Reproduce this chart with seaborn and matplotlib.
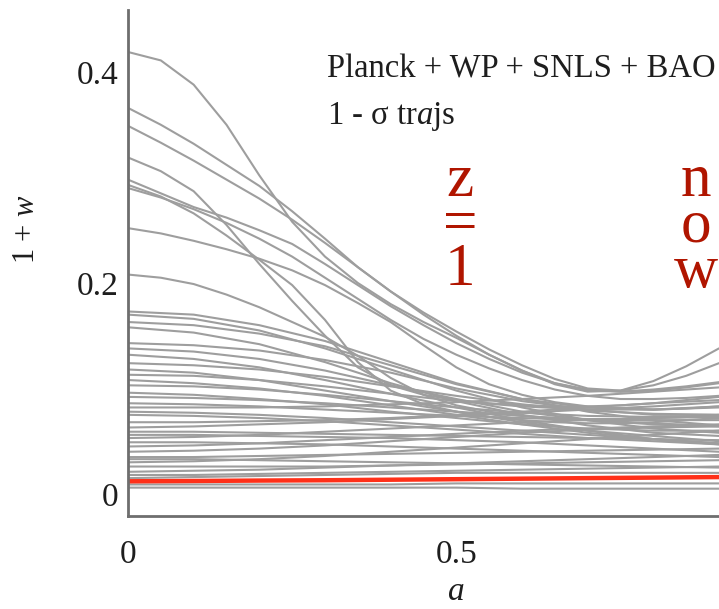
import numpy as np
import pandas as pd
import matplotlib
matplotlib.use("Agg")
import matplotlib.pyplot as plt
import seaborn as sns

# scale factor grids
a_fine = [0.0, 0.05, 0.1, 0.15, 0.2, 0.25, 0.3, 0.35, 0.4, 0.45,
          0.5, 0.55, 0.6, 0.65, 0.7, 0.75, 0.8, 0.85, 0.9]
a_grid = [0.0, 0.1, 0.2, 0.3, 0.4, 0.5, 0.6, 0.7, 0.8, 0.9]

# 1-sigma trajectories of 1+w
# steep upper trajectories, on the fine grid
traj_upper = [
    [0.419, 0.411, 0.388, 0.350, 0.302, 0.258, 0.225, 0.200, 0.180, 0.163, 0.148, 0.132, 0.117, 0.104, 0.097, 0.098, 0.107, 0.121, 0.138],
    [0.366, 0.350, 0.332, 0.312, 0.292, 0.268, 0.242, 0.215, 0.192, 0.172, 0.154, 0.137, 0.122, 0.109, 0.100, 0.098, 0.103, 0.112, 0.124],
    [0.349, 0.333, 0.316, 0.298, 0.280, 0.260, 0.238, 0.215, 0.192, 0.170, 0.150, 0.132, 0.117, 0.105, 0.098, 0.097, 0.099, 0.102, 0.106],
    [0.319, 0.306, 0.287, 0.255, 0.218, 0.183, 0.150, 0.120, 0.103, 0.094, 0.089, 0.086, 0.084, 0.083, 0.083, 0.084, 0.086, 0.089, 0.092],
    [0.298, 0.285, 0.272, 0.262, 0.250, 0.237, 0.218, 0.198, 0.178, 0.160, 0.143, 0.128, 0.115, 0.105, 0.099, 0.097, 0.098, 0.101, 0.105],
    [0.293, 0.282, 0.266, 0.245, 0.222, 0.198, 0.165, 0.125, 0.098, 0.085, 0.078, 0.073, 0.070, 0.068, 0.067, 0.067, 0.068, 0.070, 0.072],
    [0.290, 0.281, 0.270, 0.257, 0.242, 0.225, 0.205, 0.185, 0.165, 0.147, 0.132, 0.119, 0.108, 0.099, 0.093, 0.090, 0.090, 0.091, 0.093],
    [0.252, 0.247, 0.240, 0.232, 0.223, 0.212, 0.198, 0.181, 0.163, 0.141, 0.120, 0.104, 0.094, 0.087, 0.083, 0.081, 0.080, 0.081, 0.083],
    [0.208, 0.205, 0.199, 0.189, 0.177, 0.163, 0.149, 0.131, 0.110, 0.094, 0.084, 0.078, 0.074, 0.072, 0.071, 0.071, 0.072, 0.073, 0.075],
]
# gentler trajectories, on the coarse grid
traj_middle = [
    [0.173, 0.170, 0.160, 0.145, 0.125, 0.105, 0.090, 0.078, 0.070, 0.065],
    [0.170, 0.166, 0.155, 0.138, 0.118, 0.098, 0.082, 0.070, 0.062, 0.058],
    [0.163, 0.160, 0.152, 0.140, 0.122, 0.104, 0.090, 0.082, 0.080, 0.082],
    [0.158, 0.153, 0.142, 0.125, 0.105, 0.088, 0.075, 0.065, 0.058, 0.055],
    [0.143, 0.141, 0.136, 0.127, 0.115, 0.100, 0.088, 0.080, 0.075, 0.075],
    [0.138, 0.135, 0.128, 0.117, 0.103, 0.090, 0.078, 0.070, 0.066, 0.065],
    [0.132, 0.128, 0.120, 0.108, 0.095, 0.082, 0.070, 0.060, 0.052, 0.047],
    [0.124, 0.122, 0.118, 0.111, 0.102, 0.093, 0.085, 0.079, 0.076, 0.075],
    [0.118, 0.115, 0.108, 0.098, 0.088, 0.078, 0.068, 0.060, 0.055, 0.050],
    [0.113, 0.112, 0.108, 0.102, 0.095, 0.088, 0.083, 0.080, 0.080, 0.083],
    [0.108, 0.105, 0.100, 0.093, 0.084, 0.075, 0.066, 0.058, 0.052, 0.048],
    [0.103, 0.102, 0.099, 0.094, 0.088, 0.082, 0.077, 0.074, 0.073, 0.074],
    [0.096, 0.094, 0.090, 0.085, 0.078, 0.072, 0.066, 0.062, 0.060, 0.060],
]
traj_lower = [
    [0.092, 0.091, 0.089, 0.086, 0.082, 0.078, 0.074, 0.070, 0.067, 0.064],
    [0.086, 0.085, 0.083, 0.080, 0.077, 0.074, 0.072, 0.070, 0.070, 0.070],
    [0.082, 0.082, 0.082, 0.083, 0.085, 0.087, 0.090, 0.093, 0.097, 0.101],
    [0.078, 0.077, 0.075, 0.072, 0.068, 0.064, 0.060, 0.056, 0.052, 0.048],
    [0.075, 0.074, 0.072, 0.069, 0.065, 0.061, 0.057, 0.053, 0.050, 0.047],
    [0.068, 0.068, 0.069, 0.070, 0.072, 0.075, 0.078, 0.082, 0.086, 0.089],
    [0.063, 0.064, 0.066, 0.068, 0.071, 0.074, 0.077, 0.080, 0.083, 0.087],
    [0.059, 0.059, 0.058, 0.057, 0.056, 0.055, 0.054, 0.053, 0.052, 0.051],
    [0.056, 0.056, 0.055, 0.054, 0.053, 0.051, 0.049, 0.046, 0.043, 0.040],
    [0.053, 0.054, 0.056, 0.059, 0.062, 0.065, 0.068, 0.070, 0.072, 0.073],
    [0.049, 0.049, 0.048, 0.047, 0.045, 0.043, 0.041, 0.039, 0.037, 0.035],
    [0.045, 0.046, 0.048, 0.051, 0.054, 0.057, 0.060, 0.062, 0.064, 0.066],
    [0.040, 0.041, 0.043, 0.046, 0.050, 0.054, 0.058, 0.061, 0.063, 0.064],
    [0.035, 0.035, 0.036, 0.037, 0.038, 0.039, 0.040, 0.041, 0.042, 0.043],
    [0.033, 0.033, 0.032, 0.031, 0.030, 0.029, 0.028, 0.027, 0.026, 0.025],
    [0.030, 0.031, 0.033, 0.036, 0.040, 0.044, 0.048, 0.052, 0.056, 0.060],
    [0.026, 0.026, 0.026, 0.026, 0.027, 0.028, 0.029, 0.030, 0.031, 0.032],
    [0.021, 0.022, 0.023, 0.025, 0.027, 0.029, 0.031, 0.033, 0.035, 0.037],
    [0.018, 0.018, 0.019, 0.020, 0.021, 0.022, 0.023, 0.024, 0.025, 0.026],
    [0.015, 0.016, 0.017, 0.018, 0.019, 0.020, 0.020, 0.020, 0.020, 0.020],
    [0.009, 0.009, 0.009, 0.009, 0.009, 0.010, 0.010, 0.010, 0.010, 0.010],
    [0.006, 0.006, 0.006, 0.006, 0.006, 0.006, 0.005, 0.005, 0.005, 0.005],
]
best_fit = [0.0120, 0.0123, 0.0127, 0.0130, 0.0135, 0.0140, 0.0145, 0.0150, 0.0155, 0.0160]

x_ticks = [0, 0.5]
x_tick_labels = ["0", "0.5"]
y_ticks = [0, 0.2, 0.4]
y_tick_labels = ["0", "0.2", "0.4"]

sns.set_style("white")
plt.rcParams["font.family"] = ["Liberation Serif", "DejaVu Serif"]
plt.rcParams["mathtext.fontset"] = "custom"
plt.rcParams["mathtext.rm"] = "Liberation Serif"
plt.rcParams["mathtext.it"] = "Liberation Serif:italic"

rows = []
k = 0
for tr in traj_upper:
    for a, v in zip(a_fine, tr):
        rows.append({"traj": k, "a": a, "w1": v})
    k += 1
for tr in traj_middle + traj_lower:
    for a, v in zip(a_grid, tr):
        rows.append({"traj": k, "a": a, "w1": v})
    k += 1
df = pd.DataFrame(rows)
df_best = pd.DataFrame({"a": a_grid, "w1": best_fit})

W, H = 719, 609
fig = plt.figure(figsize=(W / 100, H / 100), dpi=100)
ax = fig.add_axes([128 / W, (H - 516) / H, (W - 128) / W, (516 - 10) / H])

sns.lineplot(data=df, x="a", y="w1", units="traj", estimator=None,
             color="#9e9e9e", linewidth=1.5, ax=ax, legend=False)
sns.lineplot(data=df_best, x="a", y="w1", color="#ff3019", linewidth=3.2,
             ax=ax, legend=False)

ax.set_xlim(0, 0.9)
ax.set_ylim(-0.0209, 0.4588)
for s in ["top", "right"]:
    ax.spines[s].set_visible(False)
for s in ["left", "bottom"]:
    ax.spines[s].set_color("#6e6e6e")
    ax.spines[s].set_linewidth(2.0)

ax.set_xticks(x_ticks)
ax.set_xticklabels(x_tick_labels)
ax.set_yticks(y_ticks)
ax.set_yticklabels(y_tick_labels)
ax.set_xticks(np.arange(0.1, 0.91, 0.1), minor=True)
ax.set_yticks([0.1, 0.3], minor=True)
ax.tick_params(axis="both", which="major", direction="in", length=7, width=1.5,
               color="#555555", labelsize=24, labelcolor="#1e1e1e")
ax.tick_params(axis="both", which="minor", direction="in", length=4, width=1.2,
               color="#555555")
ax.tick_params(axis="x", which="major", pad=17)
ax.tick_params(axis="y", which="major", pad=7)
ax.set_xlabel("")
ax.set_ylabel("")

txt = "#1e1e1e"
fig.text(26 / W, 1 - 229 / H, r"1 + $w$", fontsize=22, color=txt,
         rotation=90, ha="center", va="center")
fig.text(456 / W, 1 - 600 / H, r"$a$", fontsize=24, color=txt,
         ha="center", va="baseline")

fig.text(327 / W, 1 - 78 / H, "Planck + WP + SNLS + BAO", fontsize=23.5,
         color=txt, ha="left", va="baseline")
fig.text(327 / W, 1 - 124 / H, "1 - σ tr$a$js", fontsize=23.5,
         color=txt, ha="left", va="baseline")

# multi-line labels: with va="baseline" the last line's baseline is anchored
red = "#b01500"
fig.text(460 / W, 1 - 285 / H, "z\n=\n1", fontsize=44, color=red,
         ha="center", va="baseline", multialignment="center", linespacing=0.74)
fig.text(696 / W, 1 - 287 / H, "n\no\nw", fontsize=44, color=red,
         ha="center", va="baseline", multialignment="center", linespacing=0.76)

fig.savefig("out.png", dpi=100)
